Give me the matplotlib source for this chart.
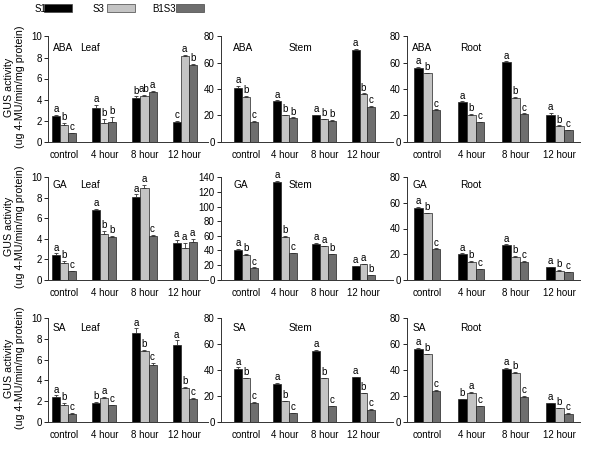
import matplotlib
matplotlib.use('Agg')
import matplotlib.pyplot as plt
import numpy as np
from matplotlib.patches import Rectangle

plt.rcParams['font.family'] = ['Liberation Sans', 'DejaVu Sans']

times = ['control', '4 hour', '8 hour', '12 hour']
lines = ['S1', 'S3', 'B1S3']
colors = ['#000000', '#c4c4c4', '#6e6e6e']

# values per hormone/tissue: rows = time points, cols = S1, S3, B1S3
aba_leaf = [[2.4, 1.6, 0.8], [3.2, 1.8, 1.9], [4.1, 4.3, 4.7], [1.85, 8.1, 7.25]]
aba_leaf_err = [[0.15, 0.2, 0.05], [0.3, 0.35, 0.45], [0.2, 0.15, 0.1], [0.1, 0.15, 0.15]]
aba_leaf_let = [['a', 'b', 'c'], ['a', 'b', 'b'], ['b', 'ab', 'a'], ['c', 'a', 'b']]

aba_stem = [[41, 34, 15], [30.5, 20, 18], [20, 17, 16], [70, 36, 26.5]]
aba_stem_err = [[1.2, 0.6, 0.4], [0.8, 0.4, 0.4], [0.5, 0.4, 0.4], [0.6, 0.6, 0.5]]
aba_stem_let = [['a', 'b', 'c'], ['a', 'b', 'b'], ['a', 'b', 'b'], ['a', 'b', 'c']]

aba_root = [[56, 52, 24], [30, 20.5, 14.5], [60.5, 33, 21], [20.5, 12, 8.5]]
aba_root_err = [[1.0, 0.5, 0.4], [0.5, 0.4, 0.3], [0.5, 0.8, 0.4], [1.2, 0.3, 0.3]]
aba_root_let = [['a', 'b', 'c'], ['a', 'b', 'c'], ['a', 'b', 'c'], ['a', 'b', 'c']]

ga_leaf = [[2.4, 1.6, 0.8], [6.85, 4.5, 4.2], [8.05, 8.95, 4.25], [3.55, 3.05, 3.65]]
ga_leaf_err = [[0.15, 0.2, 0.05], [0.1, 0.3, 0.1], [0.3, 0.3, 0.15], [0.3, 0.5, 0.35]]
ga_leaf_let = [['a', 'b', 'c'], ['a', 'b', 'b'], ['a', 'a', 'c'], ['a', 'a', 'a']]

ga_stem = [[41, 34, 16], [134, 59, 36], [49, 46, 35], [18, 21, 6]]
ga_stem_err = [[1.0, 0.8, 0.5], [1.0, 1.2, 0.8], [1.0, 0.6, 0.6], [0.5, 0.8, 0.4]]
ga_stem_let = [['a', 'b', 'c'], ['a', 'b', 'c'], ['a', 'a', 'b'], ['a', 'a', 'b']]

ga_root = [[56, 52, 24], [20, 14, 8], [27, 18, 14], [9.5, 7, 5.5]]
ga_root_err = [[1.0, 0.4, 0.4], [0.4, 0.4, 0.3], [0.5, 0.8, 0.3], [0.3, 0.3, 0.3]]
ga_root_let = [['a', 'b', 'c'], ['a', 'b', 'c'], ['a', 'b', 'c'], ['a', 'b', 'c']]

sa_leaf = [[2.4, 1.6, 0.8], [1.8, 2.35, 1.6], [8.6, 6.8, 5.45], [7.4, 3.25, 2.2]]
sa_leaf_err = [[0.15, 0.2, 0.05], [0.1, 0.05, 0.05], [0.4, 0.15, 0.25], [0.45, 0.1, 0.1]]
sa_leaf_let = [['a', 'b', 'c'], ['b', 'a', 'c'], ['a', 'b', 'c'], ['a', 'b', 'c']]

sa_stem = [[41, 33.5, 15], [29.5, 16, 7], [55, 33.5, 12], [34.5, 22, 9.5]]
sa_stem_err = [[1.0, 0.6, 0.4], [0.6, 0.4, 0.3], [0.4, 0.6, 0.6], [0.4, 0.6, 0.4]]
sa_stem_let = [['a', 'b', 'c'], ['a', 'b', 'c'], ['a', 'b', 'c'], ['a', 'b', 'c']]

sa_root = [[56, 52, 24], [17.5, 22.5, 12], [41, 38, 19.5], [14.5, 10.5, 6.5]]
sa_root_err = [[1.0, 0.5, 0.4], [0.3, 0.4, 0.4], [0.6, 0.5, 0.4], [0.4, 0.4, 0.3]]
sa_root_let = [['a', 'b', 'c'], ['b', 'a', 'c'], ['a', 'b', 'c'], ['a', 'b', 'c']]

hormones = ['ABA', 'GA', 'SA']
tissues = ['Leaf', 'Stem', 'Root']
data = [[aba_leaf, aba_stem, aba_root], [ga_leaf, ga_stem, ga_root], [sa_leaf, sa_stem, sa_root]]
errs = [[aba_leaf_err, aba_stem_err, aba_root_err], [ga_leaf_err, ga_stem_err, ga_root_err],
        [sa_leaf_err, sa_stem_err, sa_root_err]]
lets = [[aba_leaf_let, aba_stem_let, aba_root_let], [ga_leaf_let, ga_stem_let, ga_root_let],
        [sa_leaf_let, sa_stem_let, sa_root_let]]
ymax = [[10, 80, 80], [10, 140, 80], [10, 80, 80]]
ystep = [[2, 20, 20], [2, 20, 20], [2, 20, 20]]

# layout in pixels (600x450 figure)
W, H = 600, 450
col_left = [48, 221, 407]
col_width = [160, 172, 173]
col_xlim = [(-0.4, 3.58), (-0.63, 3.75), (-0.46, 3.47)]
row_top = [36.5, 177.5, 318]
row_bot = [141.5, 279.5, 422]
name_x = [(0.03, 0.2), (0.07, 0.39), (0.03, 0.305)]
name_y = [0.886, 0.93, 0.90]

fig = plt.figure(figsize=(6, 4.5), dpi=100)

bw = 0.2
x = np.arange(len(times))
for r in range(3):
    for c in range(3):
        ax = fig.add_axes([col_left[c] / W, 1 - row_bot[r] / H,
                           col_width[c] / W, (row_bot[r] - row_top[r]) / H])
        vals = np.array(data[r][c])
        er = np.array(errs[r][c])
        top = ymax[r][c]
        for k in range(3):
            xs = x + (k - 1) * bw
            ax.bar(xs, vals[:, k], bw, color=colors[k], edgecolor='#222222', linewidth=0.5)
            ax.errorbar(xs, vals[:, k], yerr=[np.zeros(4), er[:, k]], fmt='none',
                        ecolor='#333333', elinewidth=0.6, capsize=1.5, capthick=0.6)
            for i in range(4):
                ax.text(xs[i], vals[i, k] + er[i, k] + top * 0.008, lets[r][c][i][k],
                        ha='center', va='bottom', fontsize=7)
        ax.set_xlim(*col_xlim[c])
        ax.set_ylim(0, top)
        ax.set_yticks(np.arange(0, top + 1, ystep[r][c]))
        ax.set_xticks(x)
        ax.set_xticklabels(times, fontsize=7)
        ax.tick_params(axis='x', length=0, pad=6)
        ax.tick_params(axis='y', labelsize=7, length=3, width=0.6, pad=1.5)
        for s in ['top', 'right']:
            ax.spines[s].set_visible(False)
        for s in ['left', 'bottom']:
            ax.spines[s].set_linewidth(0.7)
            ax.spines[s].set_color('#333333')
        ax.text(name_x[c][0], name_y[r], hormones[r], transform=ax.transAxes,
                fontsize=7.3, va='center')
        ax.text(name_x[c][1], name_y[r], tissues[c], transform=ax.transAxes,
                fontsize=7.3, va='center')
        if c == 0:
            ax.set_ylabel('GUS activity\n(ug 4-MU/min/mg protein)', fontsize=7.7,
                          linespacing=1.1)
            ax.yaxis.set_label_coords(-0.145, 0.52)

# legend at top
leg_text_x = [35, 93, 152]
leg_box_x = [44, 107, 176]
for k in range(3):
    fig.text(leg_text_x[k] / W, 1 - 9 / H, lines[k], fontsize=7, va='center')
    fig.patches.append(Rectangle((leg_box_x[k] / W, 1 - 12 / H), 28 / W, 7.5 / H,
                                 transform=fig.transFigure, facecolor=colors[k],
                                 edgecolor='#444444', linewidth=0.5))

fig.savefig('out.png', dpi=100)
